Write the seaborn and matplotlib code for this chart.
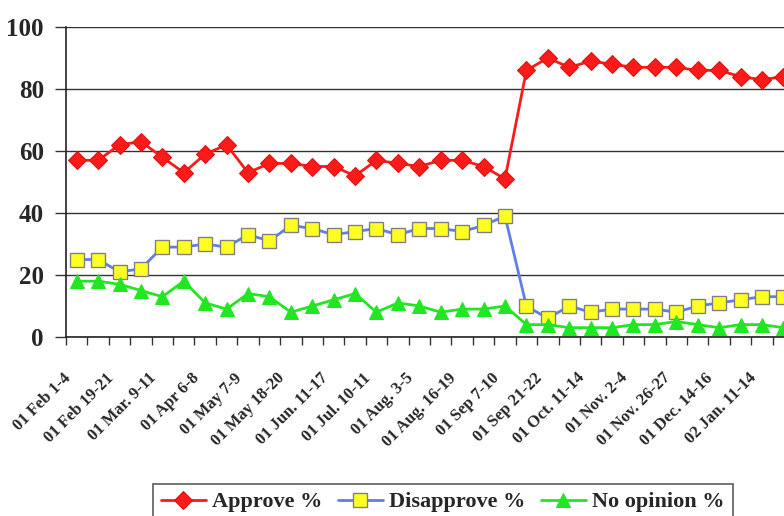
import numpy as np
import pandas as pd
import matplotlib
matplotlib.use("Agg")
import matplotlib.pyplot as plt
import matplotlib.transforms as mtransforms
import seaborn as sns

# poll dates (only every other one is labelled on the axis)
categories = [
    "01 Feb 1-4", "01 Feb 9-11", "01 Feb 19-21", "01 Mar. 5-7", "01 Mar. 9-11",
    "01 Mar. 26-28", "01 Apr 6-8", "01 Apr 20-22", "01 May 7-9", "01 May 10-14",
    "01 May 18-20", "01 Jun. 8-10", "01 Jun. 11-17", "01 Jun. 28-Jul. 1", "01 Jul. 10-11",
    "01 Jul. 19-22", "01 Aug. 3-5", "01 Aug. 10-12", "01 Aug. 16-19", "01 Aug. 24-26",
    "01 Sep 7-10", "01 Sep 14-15", "01 Sep 21-22", "01 Oct. 5-6", "01 Oct. 11-14",
    "01 Oct. 19-21", "01 Nov. 2-4", "01 Nov. 8-11", "01 Nov. 26-27", "01 Dec. 6-9",
    "01 Dec. 14-16", "02 Jan. 7-9", "02 Jan. 11-14", "02 Jan. 25-27",
]
approve = [57, 57, 62, 63, 58, 53, 59, 62, 53, 56, 56, 55, 55, 52, 57, 56, 55,
           57, 57, 55, 51, 86, 90, 87, 89, 88, 87, 87, 87, 86, 86, 84, 83, 84]
disapprove = [25, 25, 21, 22, 29, 29, 30, 29, 33, 31, 36, 35, 33, 34, 35, 33, 35,
              35, 34, 36, 39, 10, 6, 10, 8, 9, 9, 9, 8, 10, 11, 12, 13, 13]
no_opinion = [18, 18, 17, 15, 13, 18, 11, 9, 14, 13, 8, 10, 12, 14, 8, 11, 10,
              8, 9, 9, 10, 4, 4, 3, 3, 3, 4, 4, 5, 4, 3, 4, 4, 3]

df = pd.DataFrame({
    "pos": np.arange(len(categories)),
    "date": categories,
    "Approve %": approve,
    "Disapprove %": disapprove,
    "No opinion %": no_opinion,
})

sns.set_theme(style="white")
plt.rcParams["font.family"] = ["Liberation Serif", "DejaVu Serif"]
plt.rcParams["font.weight"] = "bold"

fig = plt.figure(figsize=(7.84, 5.16), dpi=100)
ax = fig.add_axes([66 / 784, 1 - 337 / 516, 1 - 66 / 784, 310 / 516])

styles = {
    "Approve %": dict(color="#ff1a1a", marker="D", markersize=9,
                      markerfacecolor="#ff1a1a", markeredgecolor="#e01010"),
    "Disapprove %": dict(color="#5f7fe6", marker="s", markersize=10.5,
                         markerfacecolor="#ffff22", markeredgecolor="#808080",
                         markeredgewidth=1.0),
    "No opinion %": dict(color="#22e622", marker="^", markersize=10.5,
                         markerfacecolor="#22e622", markeredgecolor="#22e622"),
}
for name, st in styles.items():
    sns.lineplot(data=df, x="pos", y=name, ax=ax, label=name, linewidth=2.0, **st)

ax.set_ylim(0, 100)
ax.set_xlim(-0.5, len(categories) - 1 + 0.03)
ax.set_yticks([0, 20, 40, 60, 80, 100])
ax.set_yticklabels(["0", "20", "40", "60", "80", "100"], fontsize=18,
                   fontweight="bold")
ax.yaxis.grid(True, color="#333333", linewidth=1.0)
ax.set_axisbelow(True)
ax.tick_params(axis="y", length=8, width=1, color="#333333", pad=8, left=True)

# labels at every other poll, tick marks between polls
major = df["pos"][::2]
ax.set_xticks(major)
ax.set_xticks(np.arange(len(categories)) - 0.5, minor=True)
ax.tick_params(axis="x", which="major", length=0, pad=18)
ax.tick_params(axis="x", which="minor", length=6, width=1, color="#333333",
               bottom=True)
ax.set_xticklabels(df["date"][::2], rotation=45, ha="right",
                   rotation_mode="anchor", fontsize=12, fontweight="bold")
shift = mtransforms.ScaledTranslation(-0.14, -0.08, fig.dpi_scale_trans)
for lab in ax.get_xticklabels():
    lab.set_transform(lab.get_transform() + shift)
ax.set_xlabel("")
ax.set_ylabel("")

for side in ["top", "right"]:
    ax.spines[side].set_visible(False)
for side in ["left", "bottom"]:
    ax.spines[side].set_color("#222222")
    ax.spines[side].set_linewidth(1.2)

ax.legend_.remove()
handles, labels = ax.get_legend_handles_labels()
leg = fig.legend(handles, labels, loc="upper center", ncol=3,
                 bbox_to_anchor=(443 / 784, 1 - 473 / 516), frameon=True,
                 fancybox=False, edgecolor="#333333", handlelength=2.0,
                 handletextpad=0.3, columnspacing=0.7, borderpad=0.35,
                 prop={"size": 16, "weight": "bold"})
leg.get_frame().set_linewidth(1.2)

fig.savefig("out.png", dpi=100)
